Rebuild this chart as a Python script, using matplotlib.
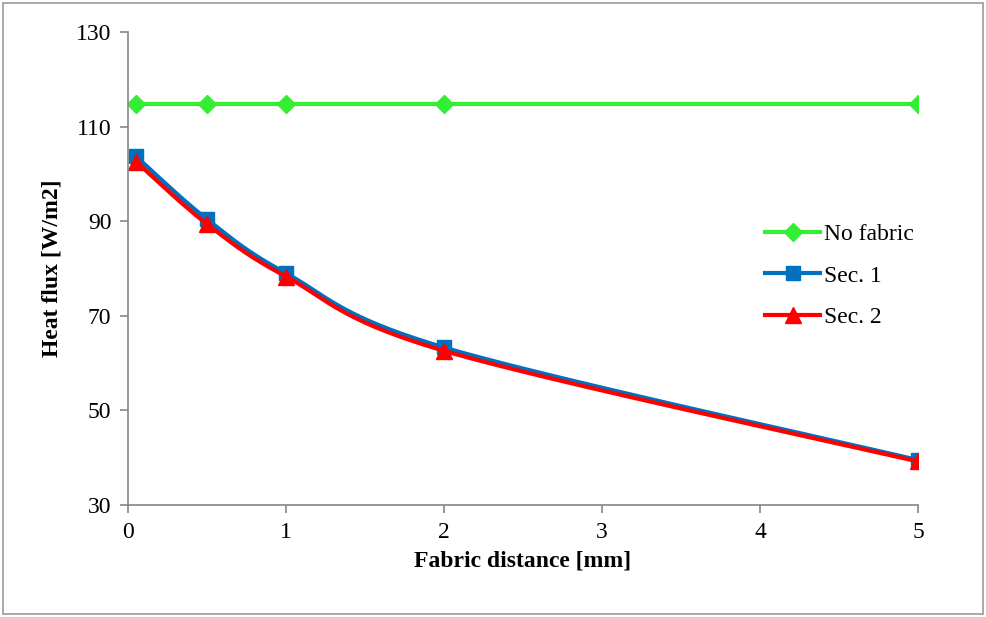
import matplotlib
matplotlib.use("Agg")
import matplotlib.pyplot as plt
from matplotlib.patches import Rectangle
import numpy as np

plt.rcParams['font.family'] = ['Liberation Serif', 'DejaVu Serif']

# data
distance = [0.05, 0.5, 1, 2, 5]
no_fabric = [114.8, 114.8, 114.8, 114.8, 114.8]
sec1 = [103.7, 90.4, 79.0, 63.3, 39.5]
sec2 = [102.6, 89.4, 78.3, 62.6, 39.2]


def smooth(x, y, n=40):
    # excel style smoothed line (catmull-rom through the points)
    x = np.asarray(x, float)
    y = np.asarray(y, float)
    px = np.concatenate([[x[0]], x, [x[-1]]])
    py = np.concatenate([[y[0]], y, [y[-1]]])
    xs, ys = [], []
    t = np.linspace(0, 1, n)
    for i in range(1, len(px) - 2):
        p0 = np.array([px[i], py[i]])
        p3 = np.array([px[i + 1], py[i + 1]])
        p1 = p0 + (np.array([px[i + 1], py[i + 1]]) - np.array([px[i - 1], py[i - 1]])) / 6
        p2 = p3 - (np.array([px[i + 2], py[i + 2]]) - np.array([px[i], py[i]])) / 6
        b = ((1 - t) ** 3)[:, None] * p0 + (3 * (1 - t) ** 2 * t)[:, None] * p1 \
            + (3 * (1 - t) * t ** 2)[:, None] * p2 + (t ** 3)[:, None] * p3
        xs.extend(b[:, 0])
        ys.extend(b[:, 1])
    return xs, ys


fig = plt.figure(figsize=(9.86, 6.17), dpi=100)
ax = fig.add_axes([128 / 986, 1 - 505 / 617, 790 / 986, 473 / 617])

series = [
    (no_fabric, '#33ee33', 'D', 9, 'No fabric'),
    (sec1, '#0070c0', 's', 10, 'Sec. 1'),
    (sec2, '#ff0000', '^', 11, 'Sec. 2'),
]
for vals, col, mk, ms, name in series:
    sx, sy = smooth(distance, vals)
    ax.plot(sx, sy, color=col, lw=3, solid_capstyle='round')
    ax.plot(distance, vals, linestyle='none', marker=mk, ms=ms, color=col)
    ax.plot([], [], color=col, lw=3, marker=mk, ms=ms, label=name)

ax.set_xlim(0, 5)
ax.set_ylim(30, 130)
ax.set_xticks(range(0, 6))
ax.set_yticks(range(30, 131, 20))
for s in ['top', 'right']:
    ax.spines[s].set_visible(False)
for s in ['left', 'bottom']:
    ax.spines[s].set_color('#868686')
    ax.spines[s].set_linewidth(1.2)
ax.tick_params(direction='out', length=6, width=1.2, color='#868686',
               labelsize=17, pad=6)

ax.set_xlabel('Fabric distance [mm]', fontsize=17, fontweight='bold', labelpad=6)
ax.set_ylabel('Heat flux [W/m2]', fontsize=17, fontweight='bold', labelpad=10)

ax.legend(loc='upper left', bbox_to_anchor=(0.78, 0.64), frameon=False,
          fontsize=17, handlelength=2.3, handletextpad=0.2, labelspacing=0.85)

fig.patches.append(Rectangle((3 / 986, 3 / 617), 980 / 986, 611 / 617,
                             transform=fig.transFigure, fill=False,
                             edgecolor='#9a9a9a', lw=1.2))

fig.savefig('out.png', dpi=100)
